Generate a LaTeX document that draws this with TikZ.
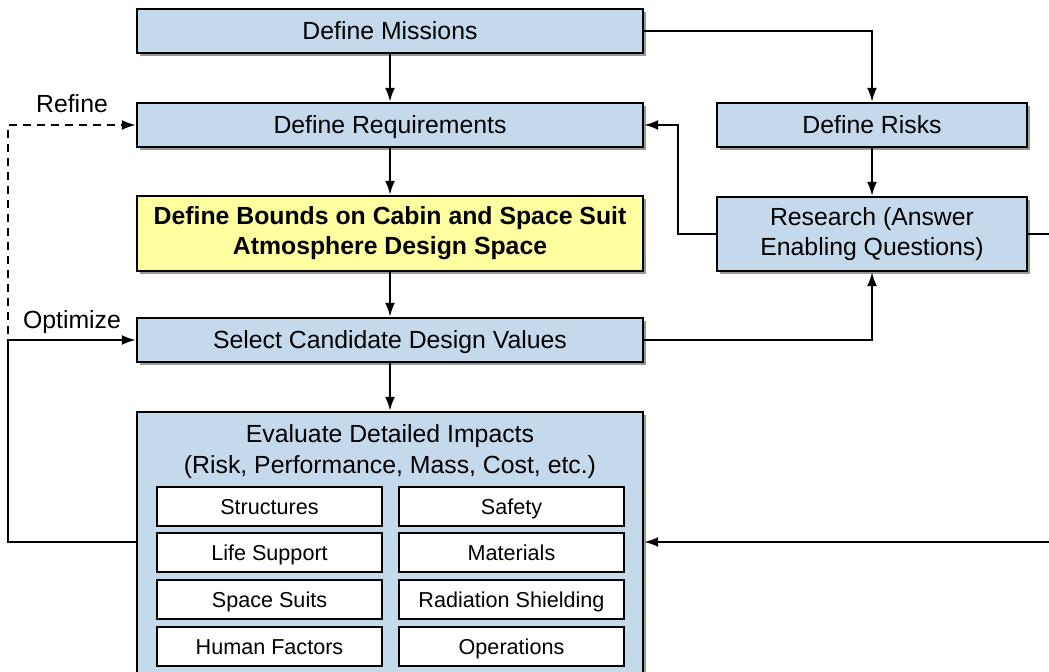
\documentclass[tikz,border=0pt]{standalone}
\usepackage{fontspec}
\setmainfont{Liberation Sans}
\usetikzlibrary{shadows,arrows.meta}
\definecolor{stageblue}{RGB}{197,217,236}
\definecolor{stageyellow}{RGB}{255,255,160}
\begin{document}
\begin{tikzpicture}
  [x=0.5pt,y=-0.5pt,line width=1pt,>={Latex[length=7pt,width=5pt]},
   stage/.style={rectangle,draw,line width=1.2pt,fill=stageblue,inner sep=0pt,
     minimum width=253pt,minimum height=22pt,align=center,
     font=\fontsize{12.4}{15}\selectfont,
     drop shadow={shadow xshift=1.5pt,shadow yshift=-1.5pt,fill=black!40,opacity=1}},
   oneline/.style={text height=9pt,text depth=0pt},
   area/.style={rectangle,draw,line width=0.8pt,fill=white,inner sep=0pt,
     minimum width=112.5pt,minimum height=19.5pt,
     text height=7.9pt,text depth=0.2pt,font=\fontsize{10.8}{13}\selectfont},
   tag/.style={font=\fontsize{12.4}{15}\selectfont,inner sep=0pt}]
  \useasboundingbox (0,0) rectangle (1049,672);

  \node (missions) at (390,31) [stage,oneline] {Define Missions};
  \node (require) at (390,125) [stage,oneline] {Define Requirements};
  \node (bounds) at (390,233.5) [stage,fill=stageyellow,minimum height=37.5pt,
    font=\fontsize{12.4}{15}\selectfont\bfseries]
    {Define Bounds on Cabin and Space Suit\\Atmosphere Design Space};
  \node (select) at (390,340) [stage,oneline] {Select Candidate Design Values};
  \node (impacts) at (390,557) [stage,minimum height=145pt] {};
  \node (title) at (390,452) [tag,align=center,font=\fontsize{12.4}{15.5}\selectfont]
    {Evaluate Detailed Impacts\\(Risk, Performance, Mass, Cost, etc.)};

  \node (risks) at (872,125) [stage,oneline,minimum width=155pt] {Define Risks};
  \node (research) at (872,234) [stage,minimum width=155pt,minimum height=37pt]
    {Research (Answer\\Enabling Questions)};

  \node (struct) at (269.5,506.5) [area] {Structures};
  \node (safety) at (511.5,506.5) [area] {Safety};
  \node (life) at (269.5,552.5) [area] {Life Support};
  \node (material) at (511.5,552.5) [area] {Materials};
  \node (suits) at (269.5,599.5) [area] {Space Suits};
  \node (radiation) at (511.5,599.5) [area] {Radiation Shielding};
  \node (human) at (269.5,646.5) [area] {Human Factors};
  \node (ops) at (511.5,646.5) [area] {Operations};

  \node (refine) at (72,104) [tag] {Refine};
  \node (optimize) at (72,322) [tag] {Optimize};

  \draw [->] (missions) to (require);
  \draw [->] (require) to (bounds);
  \draw [->] (bounds) to (select);
  \draw [->] (select) to (impacts);
  \draw [->] (missions.east) -| (risks.north);
  \draw [->] (risks) to (research);
  \draw [->] (research.west) -- ++(-38,0) |- (require.east);
  \draw [->] (select.east) -| (research.south);
  \draw [->] (research.east) -- ++(60,0) |- ([yshift=7.5pt]impacts.east);

  \draw [dashed,dash pattern=on 4pt off 3pt,->]
    ([yshift=7.5pt]impacts.west) -- ++(-128,0) |- (require.west);
  \draw [->] ([yshift=7.5pt]impacts.west) -- ++(-128,0) |- (select.west);
\end{tikzpicture}
\end{document}
